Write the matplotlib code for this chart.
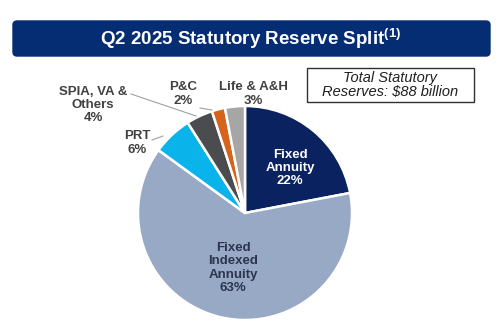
import matplotlib.pyplot as plt
from matplotlib.patches import FancyBboxPatch, Rectangle

plt.rcParams['font.family'] = ['Liberation Sans', 'DejaVu Sans']

segments = ['Fixed\nAnnuity', 'Fixed\nIndexed\nAnnuity', 'PRT', 'SPIA, VA &\nOthers', 'P&C', 'Life & A&H']
shares = [22, 63, 6, 4, 2, 3]
colors = ['#0b2260', '#98a9c6', '#0ab4ea', '#4a4c50', '#d4641c', '#a6a6a6']

W, H = 502, 336
fig = plt.figure(figsize=(W / 100, H / 100), dpi=100)

# pie first, overlay drawn above it
cx, cy, r = 245, 213, 107
ax = fig.add_axes([(cx - r) / W, (H - cy - r) / H, 2 * r / W, 2 * r / H])
ax.pie(shares, colors=colors, startangle=90, counterclock=False, radius=1,
       wedgeprops=dict(edgecolor='white', linewidth=1.8))
ax.set_xlim(-1, 1)
ax.set_ylim(-1, 1)

# overlay in pixel coords for banner, box and labels
ov = fig.add_axes([0, 0, 1, 1])
ov.set_xlim(0, W)
ov.set_ylim(H, 0)
ov.axis('off')

ov.add_patch(FancyBboxPatch((13, 21), 477, 35, boxstyle='round,pad=0,rounding_size=4',
                            fc='#052d74', ec='#052d74'))
ov.text(251, 39, 'Q2 2025 Statutory Reserve Split$^{\\mathregular{(1)}}$', color='white',
        fontsize=13.5, fontweight='bold', ha='center', va='center')

ov.add_patch(Rectangle((307, 68), 167, 34, fc='white', ec='#303030', lw=1))
ov.text(390, 85, 'Total Statutory\nReserves: $88 billion', fontsize=10.5, style='italic',
        ha='center', va='center', color='#202020', linespacing=1.0)

def lab(i):
    return f'{segments[i]}\n{shares[i]}%'

kw = dict(fontsize=9.5, fontweight='bold', ha='center', va='center', linespacing=1.15)
ov.text(290, 168, lab(0), color='white', **kw)
ov.text(233, 268, lab(1), color='#2b3550', **kw)
ov.text(137, 143, lab(2), color='#404040', **kw)
ov.text(93, 105, lab(3), color='#404040', **kw)
ov.text(183, 94, lab(4), color='#404040', **kw)
ov.text(253, 94, lab(5), color='#404040', **kw)

lc = '#a0a0a0'
ov.plot([131, 196], [94, 116], color=lc, lw=0.8)
ov.plot([200, 212], [108, 110], color=lc, lw=0.8)
ov.plot([152, 163], [140, 136], color=lc, lw=0.8)

fig.savefig('out.png', dpi=100)
